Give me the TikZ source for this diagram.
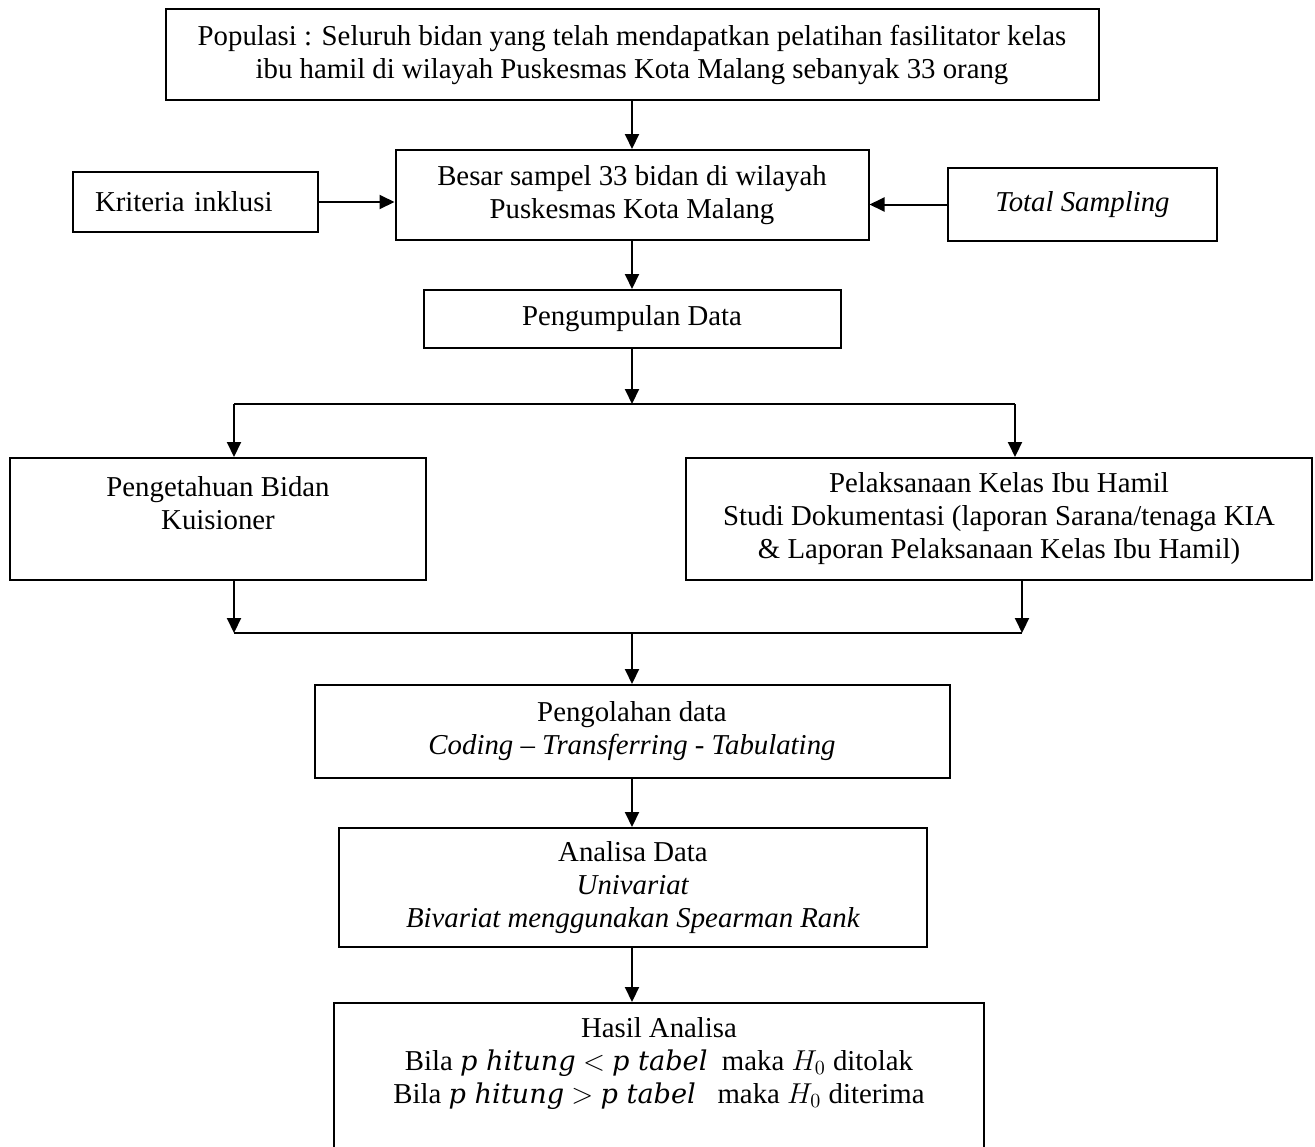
\documentclass[tikz,border=0pt]{standalone}
\usepackage{fontspec}
\setmainfont{Liberation Serif}
\newfontfamily\mathlikefont{DejaVu Serif}
\newcommand{\mvar}[1]{{\mathlikefont\itshape\fontsize{13.6pt}{16.5pt}\selectfont #1}}
\usetikzlibrary{arrows.meta}
\begin{document}
\begin{tikzpicture}[x=0.5pt,y=-0.5pt,
  every node/.style={font=\fontsize{14.4pt}{16.5pt}\selectfont},
  box/.style={draw,line width=1pt,rectangle,align=center,inner sep=0pt},
  conn/.style={line width=1pt},
  arr/.style={conn,-{Triangle[length=7.5pt,width=7pt]}}]
\useasboundingbox (0,0) rectangle (1315,1146);
\clip (0,0) rectangle (1315,1146);
% boxes
\node[box,minimum width=466.5pt,minimum height=45.5pt] (pop) at (632,54.5)
  {Populasi : Seluruh bidan yang telah mendapatkan pelatihan fasilitator kelas\\ibu hamil di wilayah Puskesmas Kota Malang sebanyak 33 orang};
\node[box,minimum width=236.5pt,minimum height=45pt] (besar) at (632,195)
  {Besar sampel 33 bidan di wilayah\\Puskesmas Kota Malang};
\node[box,minimum height=30pt,text width=100.5pt,inner xsep=11pt,align=left] (krit) at (195.5,202)
  {Kriteria inklusi};
\node[box,minimum width=134.5pt,minimum height=36.5pt] (total) at (1082.5,204.5)
  {\textit{Total Sampling}};
\node[box,minimum width=208.5pt,minimum height=29pt] (peng) at (632,319)
  {Pengumpulan Data};
\node[box,minimum width=208pt,minimum height=61pt] (left) at (218,519)
  {Pengetahuan Bidan\\Kuisioner\\\mbox{}};
\node[box,minimum width=313pt,minimum height=61pt] (right) at (999,519)
  {Pelaksanaan Kelas Ibu Hamil\\Studi Dokumentasi (laporan Sarana/tenaga KIA\\\& Laporan Pelaksanaan Kelas Ibu Hamil)};
\node[box,minimum width=317.5pt,minimum height=46.5pt] (olah) at (632,731.5)
  {Pengolahan data\\\textit{Coding – Transferring - Tabulating}};
\node[box,minimum width=294pt,minimum height=59.5pt] (anal) at (633,887.5)
  {Analisa Data\\\textit{Univariat}\\\textit{Bivariat menggunakan Spearman Rank}};
\node[box,minimum width=325pt,minimum height=110pt,anchor=north] (hasil) at (659,1002) {};
\node[align=center,inner sep=0pt,anchor=north] (hasiltext) at (659,1017)
  {Hasil Analisa\\
   Bila \mvar{p hitung} $<$ \mvar{p tabel}\ \ maka $H_0$ ditolak\\
   Bila \mvar{p hitung} $>$ \mvar{p tabel}\ \ \ maka $H_0$ diterima};
% junction points
\coordinate (sl) at (234,404);
\coordinate (sr) at (1015,404);
\coordinate (jl) at (234,633);
\coordinate (jr) at (1022,633);
% connectors
\draw[arr] (pop.south) -- (besar.north);
\draw[arr] (krit.east) -- (krit.east -| besar.west);
\draw[arr] (total.west) -- (total.west -| besar.east);
\draw[arr] (besar.south) -- (peng.north);
\draw[arr] (peng.south) -- (peng.south |- sl);
\draw[conn] (sl) -- (sr);
\draw[arr] (sl) -- (sl |- left.north);
\draw[arr] (sr) -- (sr |- right.north);
\draw[arr] (left.south -| jl) -- (jl);
\draw[arr] (right.south -| jr) -- (jr);
\draw[conn] (jl) -- (jr);
\draw[arr] (olah.north |- jl) -- (olah.north);
\draw[arr] (olah.south) -- (anal.north -| olah.south);
\draw[arr] (anal.south -| olah.south) -- (hasil.north -| olah.south);
\end{tikzpicture}
\end{document}
